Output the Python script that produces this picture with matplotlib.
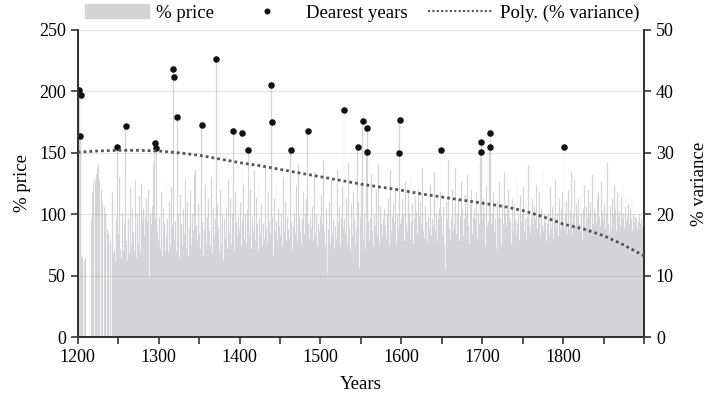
import numpy as np
import matplotlib
matplotlib.use("Agg")
import matplotlib.pyplot as plt
from matplotlib.patches import Patch
from matplotlib.lines import Line2D

plt.rcParams['font.family'] = ['Liberation Serif', 'DejaVu Serif']

# yearly % price, 1200-1899 (0 = no data), one row per decade
price = [
    0, 95, 201, 164, 197, 66, 64, 0, 62, 60,        # 1200
    64, 0, 0, 0, 0, 58, 0, 96, 118, 126,            # 1210
    130, 0, 128, 132, 138, 0, 140, 128, 0, 120,     # 1220
    112, 108, 0, 106, 100, 96, 0, 88, 84, 0,        # 1230
    78, 74, 0, 118, 68, 72, 110, 62, 96, 155,       # 1240
    84, 66, 130, 72, 64, 100, 138, 70, 92, 172,     # 1250
    78, 62, 110, 96, 68, 122, 74, 66, 104, 85,      # 1260
    70, 128, 92, 64, 100, 76, 115, 88, 68, 125,     # 1270
    96, 104, 82, 108, 98, 112, 94, 120, 102, 48,    # 1280
    100, 92, 106, 88, 140, 158, 96, 154, 110, 86,   # 1290
    78, 98, 72, 118, 84, 66, 104, 92, 70, 126,      # 1300
    82, 96, 68, 110, 88, 74, 122, 90, 218, 212,     # 1310
    80, 94, 70, 179, 86, 100, 64, 116, 92, 74,      # 1320
    58, 104, 84, 128, 72, 96, 110, 66, 88, 120,     # 1330
    92, 74, 100, 86, 132, 70, 136, 90, 78, 108,     # 1340
    84, 118, 72, 173, 94, 66, 102, 88, 124, 76,     # 1350
    98, 70, 112, 86, 74, 130, 92, 68, 104, 82,      # 1360
    96, 226, 78, 108, 88, 70, 120, 94, 74, 100,     # 1370
    62, 96, 116, 80, 104, 72, 128, 90, 84, 112,     # 1380
    76, 100, 168, 88, 70, 118, 94, 82, 132, 98,     # 1390
    86, 110, 74, 166, 96, 124, 80, 100, 88, 76,     # 1400
    104, 152, 82, 94, 120, 72, 98, 86, 136, 90,     # 1410
    78, 114, 92, 70, 126, 96, 84, 108, 74, 100,     # 1420
    92, 80, 138, 88, 102, 76, 118, 94, 84, 205,     # 1430
    175, 98, 67, 112, 86, 128, 94, 78, 104, 90,     # 1440
    120, 82, 100, 74, 130, 96, 86, 110, 78, 98,     # 1450
    88, 106, 80, 152, 94, 72, 116, 90, 100, 84,     # 1460
    124, 92, 78, 140, 98, 86, 108, 76, 96, 118,     # 1470
    84, 100, 72, 112, 168, 92, 80, 126, 98, 88,     # 1480
    106, 78, 96, 134, 84, 100, 74, 118, 92, 86,     # 1490
    98, 116, 80, 92, 144, 86, 74, 104, 96, 52,      # 1500
    88, 110, 76, 100, 128, 84, 96, 72, 114, 90,     # 1510
    80, 136, 94, 86, 106, 74, 98, 122, 88, 185,     # 1520
    96, 84, 112, 76, 100, 142, 88, 70, 108, 92,     # 1530
    82, 118, 96, 74, 104, 88, 155, 110, 56, 98,     # 1540
    86, 124, 176, 80, 100, 92, 72, 151, 170, 94,    # 1550
    104, 78, 96, 132, 86, 110, 74, 100, 90, 120,    # 1560
    84, 98, 140, 76, 106, 92, 116, 82, 96, 104,     # 1570
    90, 128, 80, 100, 112, 74, 96, 136, 86, 98,     # 1580
    108, 82, 94, 120, 76, 100, 88, 150, 177, 92,    # 1590
    96, 112, 84, 100, 78, 126, 92, 104, 86, 118,    # 1600
    100, 80, 132, 94, 108, 76, 96, 114, 88, 102,    # 1610
    84, 120, 98, 74, 110, 92, 138, 86, 100, 80,     # 1620
    106, 94, 78, 116, 98, 88, 124, 82, 96, 108,     # 1630
    90, 134, 86, 100, 112, 78, 96, 104, 118, 152,   # 1640
    98, 84, 106, 76, 92, 55, 110, 96, 144, 88,      # 1650
    102, 80, 96, 120, 86, 108, 92, 138, 84, 100,    # 1660
    94, 112, 78, 98, 126, 88, 104, 82, 96, 116,     # 1670
    86, 100, 132, 90, 76, 108, 96, 120, 84, 98,     # 1680
    104, 88, 96, 118, 80, 100, 142, 92, 151, 159,   # 1690
    96, 84, 112, 100, 74, 124, 90, 106, 94, 155,    # 1700
    166, 92, 80, 100, 118, 86, 96, 104, 72, 110,    # 1710
    98, 126, 88, 96, 76, 108, 92, 134, 84, 100,     # 1720
    90, 104, 120, 82, 98, 94, 76, 112, 100, 86,     # 1730
    108, 96, 84, 130, 92, 100, 78, 116, 94, 88,     # 1740
    100, 122, 86, 96, 110, 80, 98, 140, 90, 104,    # 1750
    84, 98, 112, 92, 76, 106, 96, 124, 88, 100,     # 1760
    96, 118, 82, 104, 90, 136, 86, 100, 94, 78,     # 1770
    110, 92, 100, 84, 122, 96, 88, 106, 80, 98,     # 1780
    94, 128, 88, 100, 82, 112, 96, 86, 104, 118,    # 1790
    92, 155, 86, 100, 110, 84, 96, 120, 88, 102,    # 1800
    134, 94, 84, 100, 128, 90, 108, 76, 98, 112,    # 1810
    92, 86, 116, 100, 80, 104, 124, 94, 88, 106,    # 1820
    96, 120, 84, 100, 110, 88, 132, 92, 80, 104,    # 1830
    100, 94, 112, 86, 118, 98, 90, 126, 84, 102,    # 1840
    96, 108, 88, 120, 100, 142, 92, 84, 106, 96,    # 1850
    88, 112, 100, 124, 92, 104, 86, 118, 98, 110,   # 1860
    102, 90, 114, 96, 122, 100, 88, 106, 94, 116,   # 1870
    98, 108, 92, 104, 96, 112, 86, 100, 94, 98,     # 1880
    92, 96, 88, 94, 100, 86, 92, 96, 90, 94,        # 1890
]
years = np.arange(1200, 1200 + len(price))

dearest_years = [1202, 1203, 1204, 1249, 1259, 1295, 1297, 1318, 1319, 1323,
                 1353, 1371, 1392, 1403, 1411, 1439, 1440, 1463, 1484, 1529,
                 1546, 1552, 1557, 1558, 1597, 1598, 1649, 1698, 1699, 1709,
                 1710, 1801]

# polynomial trend of % variance (right axis)
poly_years = [1200, 1225, 1250, 1275, 1300, 1325, 1350, 1375, 1400, 1425,
              1450, 1475, 1500, 1525, 1550, 1575, 1600, 1625, 1650, 1675,
              1700, 1725, 1750, 1775, 1800, 1825, 1850, 1875, 1900]
poly_var = [30.1, 30.3, 30.4, 30.4, 30.3, 30.0, 29.6, 29.0, 28.4, 27.9,
            27.3, 26.7, 26.1, 25.5, 24.9, 24.4, 23.9, 23.3, 22.8, 22.3,
            21.8, 21.3, 20.6, 19.6, 18.4, 17.6, 16.5, 15.0, 13.2]

price = np.array(price)
dear_vals = price[np.array(dearest_years) - 1200]

fig = plt.figure(figsize=(7.07, 4.0), dpi=100)
ax = fig.add_axes([0.110, 0.1575, 0.801, 0.7675])

ax.bar(years, price, width=1.0, color='#d5d5d7', linewidth=0.15,
       edgecolor='#d5d5d7', zorder=1)
for y in [50, 100, 150, 200, 250]:
    ax.axhline(y, color='gray', alpha=0.2, lw=0.9, zorder=2)
ax.plot(dearest_years, dear_vals, 'o', color='#111111', ms=3.7, zorder=4)

ax.set_xlim(1200, 1900)
ax.set_ylim(0, 250)
ax.set_yticks(range(0, 251, 50))
xt = list(range(1200, 1901, 50))
ax.set_xticks(xt)
ax.set_xticklabels([str(t) if (t % 100 == 0 and t < 1900) else '' for t in xt])
ax.tick_params(labelsize=13, length=5, width=1.2, color='#333333')
ax.set_xlabel('Years', fontsize=13.5, labelpad=7)
ax.set_ylabel('% price', fontsize=13.5, labelpad=6)

ax2 = ax.twinx()
ax2.plot(poly_years, poly_var, color='#555555', lw=2.0,
         linestyle=(0, (1, 1.1)), zorder=3)
ax2.set_ylim(0, 50)
ax2.set_yticks(range(0, 51, 10))
ax2.tick_params(labelsize=13, length=5, width=1.2, color='#333333')
ax2.set_ylabel('% variance', fontsize=13.5, labelpad=12)

for a in (ax, ax2):
    a.spines['top'].set_visible(False)
    for s in ('left', 'right', 'bottom'):
        a.spines[s].set_color('#333333')
        a.spines[s].set_linewidth(1.3)

handles = [Patch(color='#d5d5d7'),
           Line2D([], [], marker='o', ls='none', color='#111111', ms=3.3),
           Line2D([], [], color='#555555', lw=1.5, linestyle=(0, (1, 1.1)))]
fig.legend(handles, ['% price', 'Dearest years', 'Poly. (% variance)'],
           loc='center', bbox_to_anchor=(0.512, 0.968), ncol=3, frameon=False,
           fontsize=13.5, handlelength=3.4, handleheight=0.8,
           handletextpad=0.4, columnspacing=1.1, borderpad=0)

fig.savefig('out.png', dpi=100)
